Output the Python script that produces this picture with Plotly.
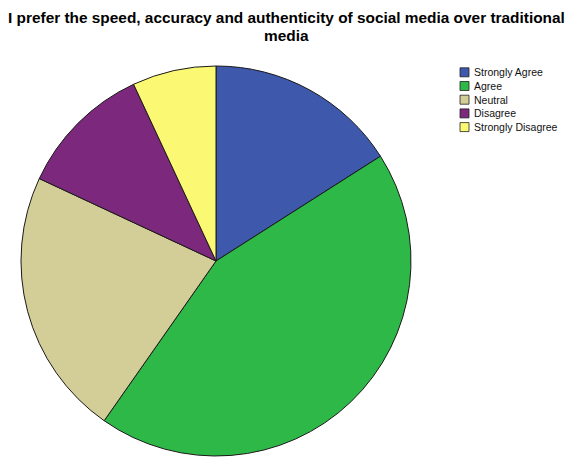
import plotly.graph_objects as go

# Survey responses
categories = ["Strongly Agree", "Agree", "Neutral", "Disagree", "Strongly Disagree"]
counts = [23, 63, 32, 16, 10]
colors = ["#3E58AC", "#2EB848", "#D3CE97", "#7C287D", "#FBF873"]

title_lines = [
    "I prefer the speed, accuracy and authenticity of social media over traditional",
    "media",
]

W, H = 567, 457
FONT = "Liberation Sans, Arial"

fig = go.Figure(
    go.Pie(
        labels=categories,
        values=counts,
        marker=dict(colors=colors, line=dict(color="#1a1a1a", width=1)),
        sort=False,
        direction="clockwise",
        rotation=0,
        textinfo="none",
        hoverinfo="label+value+percent",
        showlegend=False,
        domain=dict(x=[21 / W, 411 / W], y=[1 - 456 / H, 1 - 66 / H]),
    )
)

# Compact legend box at the upper right
lx, ly0, step, box = 460, 72.3, 13.7, 9
shapes = []
annotations = []
for i, (name, col) in enumerate(zip(categories, colors)):
    cy = ly0 + i * step
    shapes.append(dict(
        type="rect", xref="paper", yref="paper",
        x0=lx / W, x1=(lx + box) / W,
        y0=1 - (cy + box / 2) / H, y1=1 - (cy - box / 2) / H,
        fillcolor=col, line=dict(color="#222", width=0.8),
    ))
    annotations.append(dict(
        text=name, xref="paper", yref="paper",
        x=(lx + box + 3) / W, y=1 - cy / H,
        xanchor="left", yanchor="middle", showarrow=False,
        font=dict(family=FONT, size=10.5, color="#111"),
    ))

# Two-line title with tight line spacing
for line, ymid in zip(title_lines, [17.6, 35.4]):
    annotations.append(dict(
        text="<b>" + line + "</b>", xref="paper", yref="paper",
        x=286 / W, y=1 - ymid / H, xanchor="center", yanchor="middle",
        showarrow=False,
        font=dict(family=FONT, size=15.4, color="#000"),
    ))

fig.update_layout(
    width=W, height=H,
    margin=dict(l=0, r=0, t=0, b=0),
    paper_bgcolor="white",
    plot_bgcolor="white",
    shapes=shapes,
    annotations=annotations,
)

fig.write_html("out.html")
